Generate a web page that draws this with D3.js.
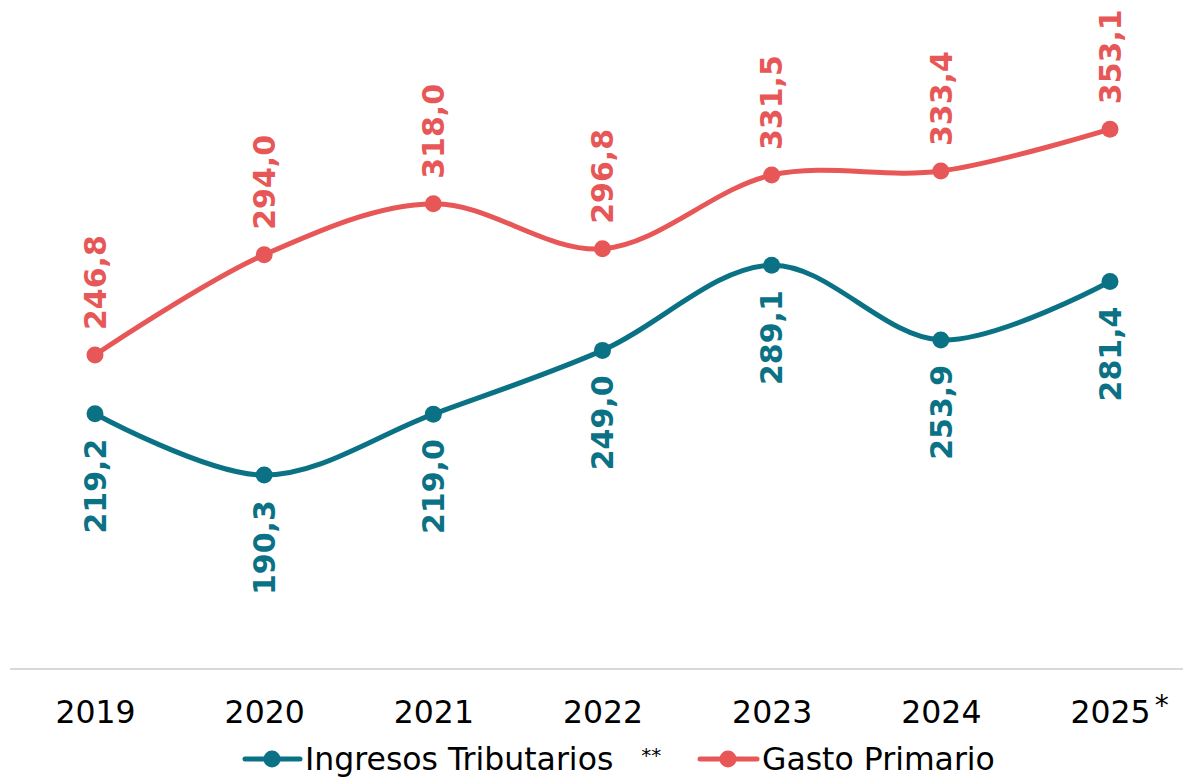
<!DOCTYPE html>
<html>
<head>
<meta charset="utf-8">
<script src="https://cdn.jsdelivr.net/npm/d3@7"></script>
<style>
	body { margin: 0; background: #fff; }
	svg text { font-family: Verdana, "DejaVu Sans", sans-serif; }
</style>
</head>
<body>
<svg id="chart" width="1183" height="778"></svg>
<script>
// chart data
var years = ["2019", "2020", "2021", "2022", "2023", "2024", "2025"];
var ingresos = [219.2, 190.3, 219.0, 249.0, 289.1, 253.9, 281.4];
var gasto = [246.8, 294.0, 318.0, 296.8, 331.5, 333.4, 353.1];
var seriesNames = ["Ingresos Tributarios", "Gasto Primario"];
var seriesColors = ["#0b7285", "#e85757"];

var svg = d3.select("#chart");

var x = d3.scalePoint()
	.domain(years)
	.range([95, 1110]);

var y = d3.scaleLinear()
	.domain([100, 400])
	.range([667, 29.5]);

// base axis line
svg.append("line")
	.attr("x1", 10)
	.attr("x2", 1183)
	.attr("y1", 669)
	.attr("y2", 669)
	.attr("stroke", "#d9d9d9")
	.attr("stroke-width", 2);

// x axis labels (no ticks / domain)
var xAxis = svg.append("g")
	.attr("transform", "translate(0,669)")
	.call(d3.axisBottom(x).tickSize(0));
xAxis.select(".domain").remove();
xAxis.selectAll("text")
	.attr("font-size", 31.5)
	.attr("fill", "#000")
	.attr("dy", 0)
	.attr("y", 54)
	.style("font-family", "Verdana, 'DejaVu Sans', sans-serif");
xAxis.selectAll("text")
	.filter(function(d) { return d === "2025"; })
	.append("tspan")
	.attr("dx", 4)
	.attr("dy", -8)
	.attr("font-size", 28)
	.text("*");
// keep 2025 number centred on its point despite the asterisk
xAxis.selectAll(".tick")
	.filter(function(d) { return d === "2025"; })
	.select("text")
	.attr("text-anchor", "start")
	.attr("x", -40);

var line = d3.line()
	.x(function(d, i) { return x(years[i]); })
	.y(function(d) { return y(d); })
	.curve(d3.curveCatmullRom.alpha(0.5));

var series = [ingresos, gasto];

series.forEach(function(values, s) {
	var color = seriesColors[s];
	svg.append("path")
		.datum(values)
		.attr("fill", "none")
		.attr("stroke", color)
		.attr("stroke-width", 5)
		.attr("d", line);

	svg.append("g")
		.selectAll("circle")
		.data(values)
		.enter().append("circle")
		.attr("cx", function(d, i) { return x(years[i]); })
		.attr("cy", function(d) { return y(d); })
		.attr("r", 8.5)
		.attr("fill", color);

	// rotated value labels: below for ingresos, above for gasto
	svg.append("g")
		.selectAll("text")
		.data(values)
		.enter().append("text")
		.attr("transform", function(d, i) {
			var py = y(d) + (s === 0 ? 25 : -25);
			return "translate(" + x(years[i]) + "," + py + ") rotate(-90)";
		})
		.attr("text-anchor", s === 0 ? "end" : "start")
		.attr("dy", "0.36em")
		.attr("font-size", 30)
		.attr("font-weight", "bold")
		.attr("fill", color)
		.text(function(d) { return d.toFixed(1).replace(".", ","); });
});

// legend
var legendItems = [
	{ x1: 245, x2: 300, cx: 272, tx: 305 },
	{ x1: 700, x2: 757, cx: 728, tx: 762 }
];
var legend = svg.append("g");
legendItems.forEach(function(item, s) {
	legend.append("line")
		.attr("x1", item.x1)
		.attr("x2", item.x2)
		.attr("y1", 759)
		.attr("y2", 759)
		.attr("stroke", seriesColors[s])
		.attr("stroke-width", 5)
		.attr("stroke-linecap", "round");
	legend.append("circle")
		.attr("cx", item.cx)
		.attr("cy", 759)
		.attr("r", 8.5)
		.attr("fill", seriesColors[s]);
	var t = legend.append("text")
		.attr("x", item.tx)
		.attr("y", 770)
		.attr("font-size", 31.5)
		.attr("fill", "#000")
		.text(seriesNames[s]);
	if (s === 0) {
		t.append("tspan")
			.attr("dx", 28)
			.attr("dy", -8)
			.attr("font-size", 20)
			.text("**");
	}
});
</script>
</body>
</html>
